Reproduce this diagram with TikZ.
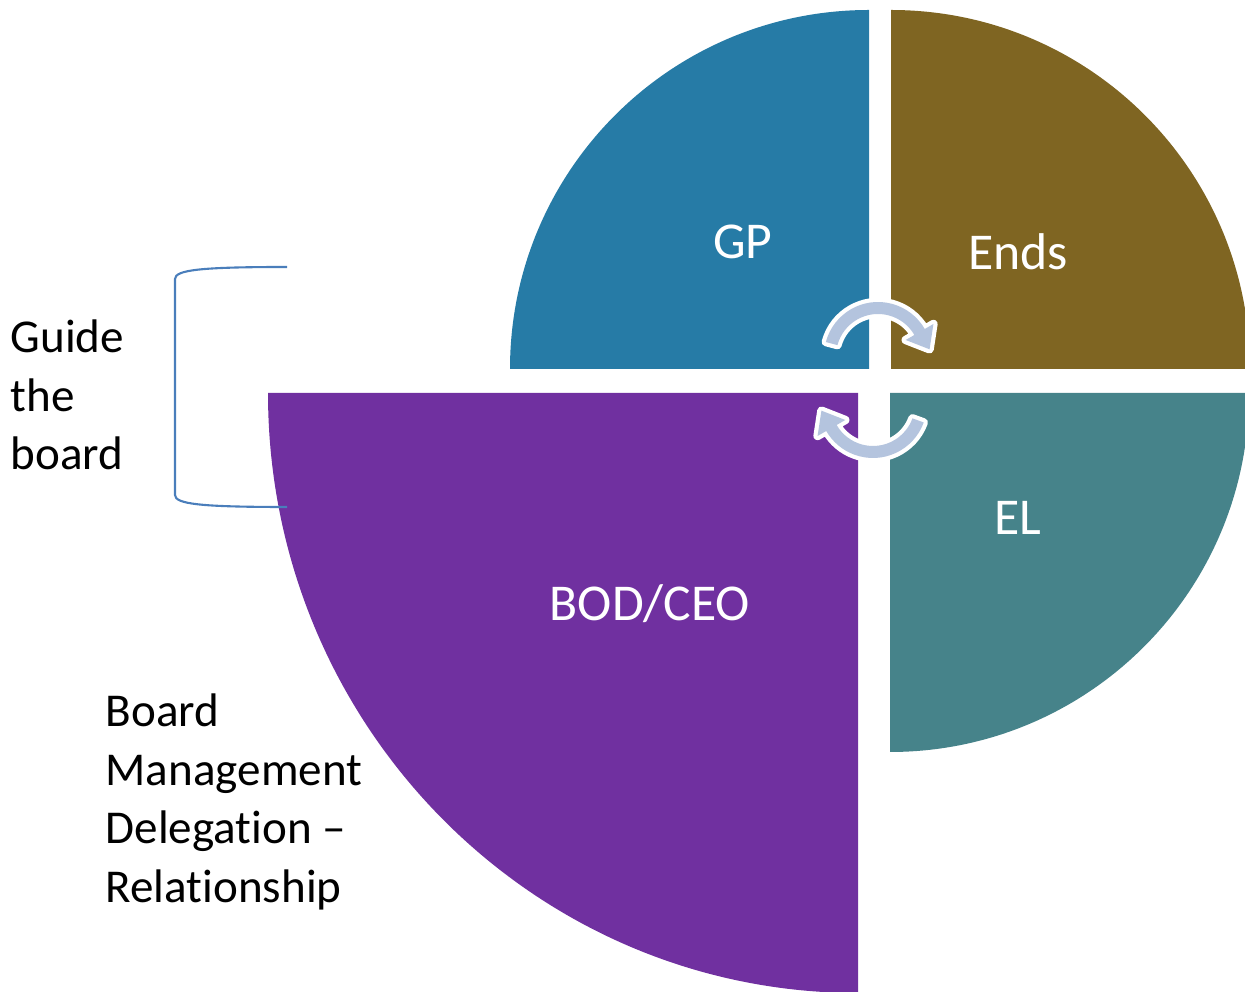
\documentclass[tikz,border=0pt]{standalone}
\usepackage{fontspec}
\setmainfont{Carlito}[Ligatures=CommonOff]
\usetikzlibrary{calc}

\definecolor{gpblue}{RGB}{38,123,166}
\definecolor{endsbrown}{RGB}{127,101,34}
\definecolor{elteal}{RGB}{70,131,138}
\definecolor{bodpurple}{RGB}{112,48,160}
\definecolor{arrowblue}{RGB}{180,196,222}
\definecolor{bracketblue}{RGB}{74,126,187}

\tikzset{
  quadtext/.style={text=white, inner sep=0pt, font=\fontsize{14.7}{17}\selectfont},
  sidetext/.style={anchor=west, align=left, inner sep=0pt, font=\fontsize{13.4}{16.7}\selectfont},
  cyclearrow/.style={fill=arrowblue, preaction={draw=white, line width=2.4pt, line join=round}},
}

\begin{document}
\begin{tikzpicture}[x=0.1mm, y=0.1mm]
      \useasboundingbox (0,0) rectangle (1245,992);
      \clip (0,0) rectangle (1245,992);
      \fill [gpblue] (869,623) -- (510,623) arc[start angle=180, end angle=90, radius=359] -- cycle;
      \fill [endsbrown] (891,623) -- (891,982) arc[start angle=90, end angle=0, radius=359] -- cycle;
      \fill [elteal] (890,599) -- (1249,599) arc[start angle=0, end angle=-90, radius=359] -- cycle;
      \fill [bodpurple] (858,599) -- (268,599) arc[start angle=180, end angle=270, x radius=590, y radius=600] -- cycle;
      \node [quadtext] (gp) at (743,750) {GP};
      \node [quadtext] (ends) at (1018,740) {Ends};
      \node [quadtext] (el) at (1018,474) {EL};
      \node [quadtext] (bod) at (650,388) {BOD/CEO};
      \coordinate (topc) at (878,636);
      \path [cyclearrow] ($(topc)+(165:54)$) arc[start angle=165, end angle=30, radius=54]
            -- ($(topc)+(30:64)$) -- ($(topc)+(30:48)+(-60:20)$) -- ($(topc)+(30:32)$)
            -- ($(topc)+(30:42)$) arc[start angle=30, end angle=165, radius=42] -- cycle;
      \coordinate (botc) at (873,588);
      \path [cyclearrow] ($(botc)+(-20:54)$) arc[start angle=-20, end angle=-150, radius=54]
            -- ($(botc)+(-150:64)$) -- ($(botc)+(-150:48)+(120:20)$) -- ($(botc)+(-150:32)$)
            -- ($(botc)+(-150:42)$) arc[start angle=-150, end angle=-20, radius=42] -- cycle;
      \coordinate (brtop) at (287,725);
      \coordinate (brbot) at (287,485);
      \draw [bracketblue, line width=0.6pt] (brtop) .. controls (200,725) and (175,722) .. (175,713)
            -- (175,497) .. controls (175,488) and (200,485) .. (brbot);
      \node [sidetext] (guide) at (10,597) {Guide\\the\\board};
      \node [sidetext] (bmd) at (105,190) {Board\\Management\\Delegation –\\Relationship};
   \end{tikzpicture}
\end{document}
